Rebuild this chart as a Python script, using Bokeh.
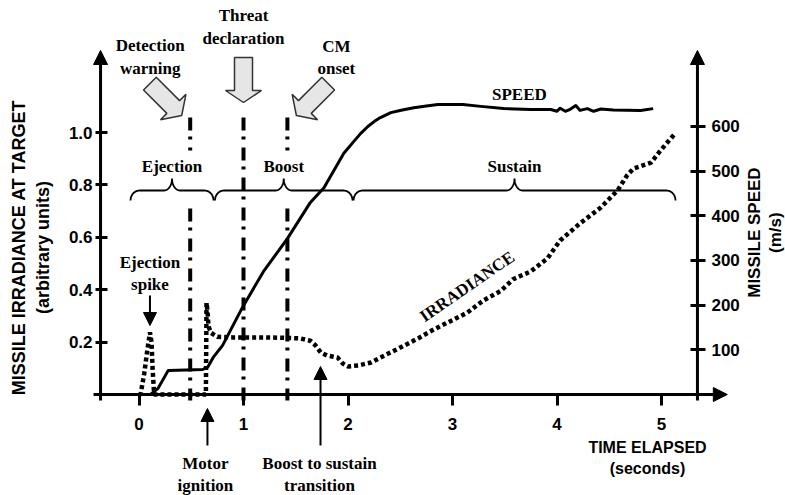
import math
import numpy as np
from bokeh.plotting import figure
from bokeh.models import (Range1d, LinearAxis, FixedTicker, PrintfTickFormatter,
                          Arrow, NormalHead)
from bokeh.core.properties import value
from bokeh.embed import file_html
from bokeh.resources import INLINE

# ---------------- data ----------------
time_speed = [0.11, 0.18, 0.28, 0.45, 0.61, 0.66, 0.71, 0.80, 0.99, 1.19, 1.42,
              1.64, 1.77, 1.96, 2.05, 2.12, 2.19, 2.25, 2.31, 2.41, 2.52, 2.63,
              2.75, 2.86, 3.10, 3.27, 3.49, 3.75, 3.94, 4.00, 4.03, 4.08, 4.13,
              4.18, 4.22, 4.29, 4.35, 4.42, 4.54, 4.80, 4.92]
speed_ms = [0, 13, 54, 55, 56, 62, 83, 110, 195, 275, 349,
            430, 463, 540, 565, 584, 600, 611, 620, 631, 637, 642,
            646, 649, 649, 645, 640, 638, 638, 634, 641, 634, 639,
            647, 636, 640, 634, 639, 637, 636, 640]

time_irr = [0.0, 0.015, 0.05, 0.08, 0.105, 0.12, 0.13, 0.145, 0.64, 0.646,
            0.655, 0.665, 0.69, 0.75, 0.9, 1.2, 1.42, 1.545, 1.64, 1.69,
            1.74, 1.80, 1.90, 1.95, 2.0, 2.10, 2.22, 2.31, 2.50, 2.67,
            2.82, 2.98, 3.14, 3.30, 3.46, 3.58, 3.75, 3.91, 4.03, 4.22,
            4.42, 4.58, 4.67, 4.73, 4.90, 4.99, 5.13]
irradiance = [0.0, 0.0, 0.08, 0.17, 0.237, 0.20, 0.10, 0.0, 0.0, 0.35,
              0.32, 0.26, 0.235, 0.22, 0.218, 0.218, 0.216, 0.214, 0.205, 0.187,
              0.160, 0.149, 0.141, 0.118, 0.107, 0.111, 0.122, 0.141, 0.179, 0.214,
              0.248, 0.28, 0.312, 0.36, 0.395, 0.44, 0.47, 0.52, 0.588, 0.653,
              0.714, 0.779, 0.836, 0.862, 0.885, 0.931, 0.996]

irr_ticks = [0.2, 0.4, 0.6, 0.8, 1.0]
speed_ticks = [100, 200, 300, 400, 500, 600]
time_ticks = [0, 1, 2, 3, 4, 5]

event_labels = ["Detection\nwarning", "Threat\ndeclaration", "CM\nonset"]
event_times = [0.49, 1.0, 1.42]

phase_labels = ["Ejection", "Boost", "Sustain"]
phase_start = [-0.081, 0.727, 2.053]
phase_end = [0.713, 2.043, 5.134]

# ---------------- layout constants ----------------
W, H = 785, 495
X0_PX, PX_PER_S = 138.5, 104.5      # canvas px of t=0, px per second
Y0_PX, PX_PER_IRR = 394.0, 262.0    # canvas px of irradiance 0, px per unit
PX_PER_MS = 0.4467                  # px per m/s

LEFT_AXIS_X = -0.368
RIGHT_AXIS_X = 5.344


def dxp(px):
    return px / PX_PER_S


def dyp(px):
    return px / PX_PER_IRR


p = figure(width=W, height=H,
           x_range=Range1d(-X0_PX / PX_PER_S, (W - X0_PX) / PX_PER_S),
           y_range=Range1d(-(H - Y0_PX) / PX_PER_IRR, Y0_PX / PX_PER_IRR),
           output_backend="svg", toolbar_location=None, min_border=0)
p.extra_y_ranges = {"speed": Range1d(-(H - Y0_PX) / PX_PER_MS, Y0_PX / PX_PER_MS)}
p.outline_line_color = None
p.grid.visible = False
p.background_fill_color = "white"
p.border_fill_color = "white"

SANS = "Liberation Sans"
SERIF = "Liberation Serif"


def style_axis(ax, tin, tout, standoff):
    ax.axis_line_color = None
    ax.major_tick_in = tin
    ax.major_tick_out = tout
    ax.major_tick_line_width = 3
    ax.major_tick_line_color = "black"
    ax.minor_tick_line_color = None
    ax.major_label_text_font = SANS
    ax.major_label_text_font_style = "bold"
    ax.major_label_text_font_size = "17px"
    ax.major_label_text_color = "black"
    ax.major_label_standoff = standoff


# left axis (irradiance)
yax = p.yaxis[0]
yax.fixed_location = LEFT_AXIS_X
yax.ticker = FixedTicker(ticks=irr_ticks)
yax.formatter = PrintfTickFormatter(format="%.1f")
style_axis(yax, 7, 5, 3)

# bottom axis (time)
xax = p.xaxis[0]
xax.fixed_location = 0
xax.ticker = FixedTicker(ticks=time_ticks)
style_axis(xax, 0, 11, 12)

# right axis (speed)
rax = LinearAxis(y_range_name="speed", fixed_location=RIGHT_AXIS_X,
                 ticker=FixedTicker(ticks=speed_ticks))
style_axis(rax, 7, 8, 6)
p.add_layout(rax, "right")


# axis lines with arrow heads
def head():
    return NormalHead(size=14, fill_color="black", line_color="black", line_width=1)


p.add_layout(Arrow(end=head(), x_start=LEFT_AXIS_X, y_start=-dyp(6),
                   x_end=LEFT_AXIS_X, y_end=dyp(344), line_width=3))
p.add_layout(Arrow(end=head(), x_start=RIGHT_AXIS_X, y_start=-6 / PX_PER_MS,
                   x_end=RIGHT_AXIS_X, y_end=344 / PX_PER_MS, line_width=3,
                   y_range_name="speed"))
p.add_layout(Arrow(end=head(), x_start=-0.435, y_start=0, x_end=5.63, y_end=0,
                   line_width=3))

# ---------------- event dash-dot lines ----------------
top_y = dyp(277)       # upper end of the lines
gap_top = dyp(244)     # interruption around phase labels
gap_bot = dyp(186)
bot_y = -dyp(6)
seg_x0, seg_y0, seg_y1 = [], [], []
for i, t in enumerate(event_times):
    if i == 1:
        seg_x0.append(t); seg_y0.append(top_y); seg_y1.append(bot_y)
    else:
        seg_x0 += [t, t]
        seg_y0 += [top_y, gap_bot]
        seg_y1 += [gap_top, bot_y]
p.segment(x0=seg_x0, y0=seg_y0, x1=seg_x0, y1=seg_y1, line_color="black",
          line_width=4, line_dash="13 6 3 8", line_cap="butt")

# ---------------- curves ----------------
p.line(time_speed, speed_ms, y_range_name="speed", line_color="black",
       line_width=3, line_join="round")
p.line(time_irr, irradiance, line_color="black", line_width=4.5,
       line_dash="4 3", line_cap="butt")


# ---------------- braces ----------------
def brace_path(x0, x1, y, r_end=9, h_end=10, r_mid=8, h_mid=12, n=14):
    L = (x1 - x0) * PX_PER_S
    m = L / 2
    pts = []

    def arc(cx, cy, rx, ry, a0, a1):
        for a in np.linspace(math.radians(a0), math.radians(a1), n):
            pts.append((cx + rx * math.cos(a), cy + ry * math.sin(a)))
    arc(r_end, h_end, r_end, h_end, 180, 270)
    arc(m - r_mid, -h_mid, r_mid, h_mid, 90, 0)
    arc(m + r_mid, -h_mid, r_mid, h_mid, 180, 90)
    arc(L - r_end, h_end, r_end, h_end, 270, 360)
    return [x0 + dxp(a) for a, b in pts], [y - dyp(b) for a, b in pts]


brace_y = dyp(204)
bxs, bys = [], []
for s, e in zip(phase_start, phase_end):
    bx, by = brace_path(s, e, brace_y)
    bxs.append(bx); bys.append(by)
p.multi_line(bxs, bys, line_color="black", line_width=1.8)

p.text(x=[(s + e) / 2 for s, e in zip(phase_start, phase_end)],
       y=[dyp(228)] * 3, text=phase_labels, text_font=value(SERIF),
       text_font_style="bold", text_font_size="17px", text_align="center",
       text_baseline="middle", text_color="black")


# ---------------- block arrows for events ----------------
def block_arrow(tx, ty, ux, uy, length=45, shaft_w=18, head_w=36, head_len=12):
    nx, ny = -uy, ux
    pts = [(0, 0),
           (-ux * head_len + nx * head_w / 2, -uy * head_len + ny * head_w / 2),
           (-ux * head_len + nx * shaft_w / 2, -uy * head_len + ny * shaft_w / 2),
           (-ux * length + nx * shaft_w / 2, -uy * length + ny * shaft_w / 2),
           (-ux * length - nx * shaft_w / 2, -uy * length - ny * shaft_w / 2),
           (-ux * head_len - nx * shaft_w / 2, -uy * head_len - ny * shaft_w / 2),
           (-ux * head_len - nx * head_w / 2, -uy * head_len - ny * head_w / 2)]
    return [tx + dxp(a) for a, b in pts], [ty - dyp(b) for a, b in pts]


r2 = math.sqrt(0.5)
arrow_tips = [(event_times[0] - dxp(8.5), dyp(279), r2, r2),
              (event_times[1], dyp(292), 0.0, 1.0),
              (event_times[2] + dxp(9), dyp(279), -r2, r2)]
axs, ays = [], []
for tx, ty, ux, uy in arrow_tips:
    a, b = block_arrow(tx, ty, ux, uy)
    axs.append(a); ays.append(b)
p.patches(axs, ays, fill_color="#e6e6e6", line_color="#333333", line_width=1.5)

p.text(x=[event_times[0] - dxp(40), event_times[1], event_times[2] + dxp(49)],
       y=[dyp(337.5), dyp(367.5), dyp(337)], text=event_labels,
       text_font=value(SERIF), text_font_style="bold", text_font_size="17px",
       text_align="center", text_baseline="middle", text_line_height=1.2,
       text_color="black")


# ---------------- small arrows ----------------
def small_head():
    return NormalHead(size=13, fill_color="black", line_color="black", line_width=1)


spike_t = time_irr[4]
ign_t = 0.655
trans_t = 1.737
p.add_layout(Arrow(end=small_head(), x_start=spike_t, y_start=dyp(99),
                   x_end=spike_t, y_end=dyp(69), line_width=2))
p.add_layout(Arrow(end=small_head(), x_start=ign_t, y_start=-dyp(51),
                   x_end=ign_t, y_end=-dyp(14), line_width=2))
p.add_layout(Arrow(end=small_head(), x_start=trans_t, y_start=-dyp(51),
                   x_end=trans_t, y_end=dyp(28), line_width=2))

p.text(x=[spike_t, ign_t - dxp(2), trans_t - dxp(1)],
       y=[dyp(121), -dyp(80), -dyp(80)],
       text=["Ejection\nspike", "Motor\nignition", "Boost to sustain\ntransition"],
       text_font=value(SERIF), text_font_style="bold", text_font_size="17px",
       text_align="center", text_baseline="middle", text_line_height=1.2,
       text_color="black")

# ---------------- curve labels ----------------
p.text(x=[3.64], y=[dyp(300)], text=["SPEED"], text_font=value(SERIF),
       text_font_style="bold", text_font_size="17px", text_align="center",
       text_baseline="middle", text_color="black")
p.text(x=[3.14], y=[0.412], text=["IRRADIANCE"], angle=0.604,
       text_font=value(SERIF), text_font_style="bold", text_font_size="17px",
       text_align="center", text_baseline="middle", text_color="black")

# ---------------- axis titles ----------------
p.text(x=[4.866], y=[-dyp(63.5)], text=["TIME ELAPSED\n(seconds)"],
       text_font=value(SANS), text_font_style="bold", text_font_size="16px",
       text_align="center", text_baseline="middle", text_line_height=1.2,
       text_color="black")
p.text(x=[-1.029], y=[0.561], text=["MISSILE IRRADIANCE AT TARGET\n(arbitrary units)"],
       angle=math.pi / 2, text_font=value(SANS), text_font_style="bold",
       text_font_size="18px", text_align="center", text_baseline="middle",
       text_line_height=1.2, text_color="black")
p.text(x=[6.038 - dxp(5)], y=[0.618], text=["MISSILE SPEED\n(m/s)"],
       angle=math.pi / 2, text_font=value(SANS), text_font_style="bold",
       text_font_size="17px", text_align="center", text_baseline="middle",
       text_line_height=1.1, text_color="black")

open("out.html", "w").write(file_html(p, INLINE))
